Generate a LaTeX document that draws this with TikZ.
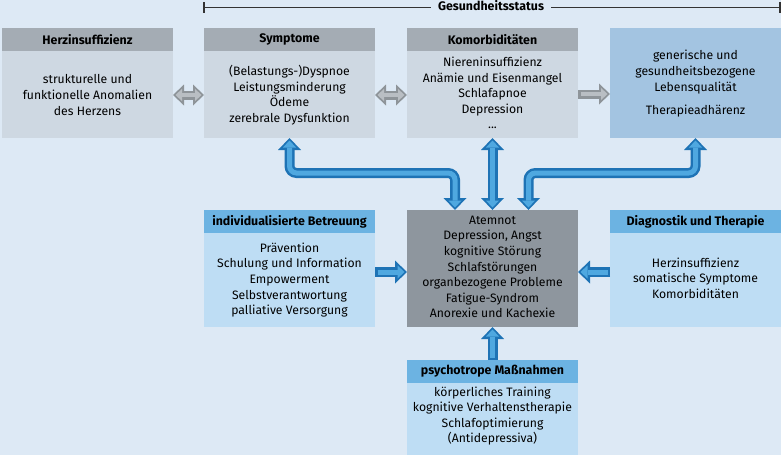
\documentclass[tikz,border=0pt]{standalone}
\usepackage{fontspec}
\setmainfont{Fira Sans}
\usetikzlibrary{arrows.meta,calc}
\definecolor{bg}{HTML}{DDE9F5}
\definecolor{grayhead}{HTML}{A4ACB4}
\definecolor{graybody}{HTML}{CED8E2}
\definecolor{lqbox}{HTML}{A3C4E1}
\definecolor{centerbox}{HTML}{8E969E}
\definecolor{bluehead}{HTML}{6CB3E2}
\definecolor{bluebody}{HTML}{BEDDF4}
\definecolor{arrdark}{HTML}{1E73B5}
\definecolor{arrlight}{HTML}{4FA8E0}
\definecolor{grdark}{HTML}{8E9499}
\definecolor{grlight}{HTML}{B9BEC3}
\definecolor{linec}{HTML}{333333}
\begin{document}
\begin{tikzpicture}[x=1pt,y=-1pt,
  font=\fontsize{12.2}{15.6}\selectfont,
  box/.style={minimum width=171pt, inner sep=0pt, outer sep=0pt, anchor=north west},
  head/.style={box, minimum height=23pt, font=\fontsize{12.4}{15.5}\selectfont\bfseries},
  txt/.style={align=center, text=black, inner sep=0pt},
  tO/.tip={Triangle[width=23pt,length=12pt,line width=0pt]},
  tI/.tip={Triangle[width=13pt,length=7pt,line width=0pt]},
  bout/.style={draw=arrdark, line width=10pt},
  bin/.style={draw=arrlight, line width=5pt, shorten <=2.5pt, shorten >=2.5pt},
  gO/.tip={Triangle[width=21pt,length=11pt,line width=0pt]},
  gI/.tip={Triangle[width=12pt,length=6.5pt,line width=0pt]},
  gout/.style={draw=grdark, line width=9pt},
  gin/.style={draw=grlight, line width=4pt, shorten <=2.5pt, shorten >=2.5pt}
]
\fill[bg] (0,0) rectangle (781,455);
\useasboundingbox (0,0) rectangle (781,455);

% bracket
\draw[linec, line width=1.2pt] (204,2) -- (204,13);
\draw[linec, line width=1.2pt] (780,2) -- (780,13);
\draw[linec, line width=1.2pt] (204,7.5) -- (780,7.5);
\node[fill=bg, inner xsep=7pt, inner ysep=1pt, font=\fontsize{12.4}{14}\selectfont\bfseries] (gs) at (491,6) {Gesundheitsstatus};

% top row
\node[box, fill=graybody, minimum height=110pt] (herz) at (2,28) {};
\node[head, fill=grayhead] (herzh) at (2,28) {Herzinsuffizienz};
\node[txt] (herzt) at (87.5,95) {strukturelle und\\funktionelle Anomalien\\des Herzens};

\node[box, fill=graybody, minimum height=110pt] (symp) at (204,28) {};
\node[head, fill=grayhead] (symph) at (204,28) {Symptome};
\node[txt] (sympt) at (289.5,95) {(Belastungs-)Dyspnoe\\Leistungsminderung\\Ödeme\\zerebrale Dysfunktion};

\node[box, fill=graybody, minimum height=110pt] (kom) at (407,28) {};
\node[head, fill=grayhead] (komh) at (407,28) {Komorbiditäten};
\node[txt] (komt) at (492.5,93) {Niereninsuffizienz\\Anämie und Eisenmangel\\Schlafapnoe\\Depression\\...};

\node[box, fill=lqbox, minimum height=110pt] (lq) at (610,28) {};
\node[txt] (lqt) at (695.5,72) {generische und\\gesundheitsbezogene\\Lebensqualität};
\node[txt] (lqt2) at (695.5,111) {Therapieadhärenz};

% middle row
\node[box, fill=bluebody, minimum height=117pt] (ind) at (204,210) {};
\node[head, fill=bluehead] (indh) at (204,210) {individualisierte Betreuung};
\node[txt] (indt) at (289.5,280) {Prävention\\Schulung und Information\\Empowerment\\Selbstverantwortung\\palliative Versorgung};

\node[box, fill=centerbox, minimum height=117pt] (cen) at (407,210) {};
\node[txt] (cent) at (492.5,267) {Atemnot\\Depression, Angst\\kognitive Störung\\Schlafstörungen\\organbezogene Probleme\\Fatigue-Syndrom\\Anorexie und Kachexie};

\node[box, fill=bluebody, minimum height=117pt] (diag) at (610,210) {};
\node[head, fill=bluehead] (diagh) at (610,210) {Diagnostik und Therapie};
\node[txt] (diagt) at (695.5,278) {Herzinsuffizienz\\somatische Symptome\\Komorbiditäten};

% bottom
\node[box, fill=bluebody, minimum height=95pt] (psy) at (407,360) {};
\node[head, fill=bluehead] (psyh) at (407,360) {psychotrope Maßnahmen};
\node[txt] (psyt) at (492.5,416) {körperliches Training\\kognitive Verhaltenstherapie\\Schlafoptimierung\\(Antidepressiva)};

% grey arrows
\draw[gout, gO-gO] ($(herz.east)+(0,12)$) -- ($(symp.west)+(0,12)$);
\draw[gin, gI-gI] ($(herz.east)+(0,12)$) -- ($(symp.west)+(0,12)$);
\draw[gout, gO-gO] ($(symp.east)+(0,12)$) -- ($(kom.west)+(0,12)$);
\draw[gin, gI-gI] ($(symp.east)+(0,12)$) -- ($(kom.west)+(0,12)$);
\draw[gout, -gO] ($(kom.east)+(0,11)$) -- ($(lq.west)+(0,11)$);
\draw[gin, -gI] ($(kom.east)+(0,11)$) -- ($(lq.west)+(0,11)$);

% blue arrows
\draw[bout, tO-tO, rounded corners=7pt] ($(cen.north)+(-37.5,0)$) |- ($(symp.south)+(0,35)$) -- (symp.south);
\draw[bin, tI-tI, rounded corners=7pt] ($(cen.north)+(-37.5,0)$) |- ($(symp.south)+(0,35)$) -- (symp.south);
\draw[bout, tO-tO] (cen.north) -- (kom.south);
\draw[bin, tI-tI] (cen.north) -- (kom.south);
\draw[bout, tO-tO, rounded corners=7pt] ($(cen.north)+(36,0)$) |- ($(lq.south)+(0,35)$) -- (lq.south);
\draw[bin, tI-tI, rounded corners=7pt] ($(cen.north)+(36,0)$) |- ($(lq.south)+(0,35)$) -- (lq.south);
\draw[bout, -tO] ($(ind.east)+(0,3.5)$) -- ($(cen.west)+(0,3.5)$);
\draw[bin, -tI] ($(ind.east)+(0,3.5)$) -- ($(cen.west)+(0,3.5)$);
\draw[bout, -tO] ($(diag.west)+(0,3.5)$) -- ($(cen.east)+(0,3.5)$);
\draw[bin, -tI] ($(diag.west)+(0,3.5)$) -- ($(cen.east)+(0,3.5)$);
\draw[bout, -tO] (psy.north) -- (cen.south);
\draw[bin, -tI] (psy.north) -- (cen.south);
\end{tikzpicture}
\end{document}
